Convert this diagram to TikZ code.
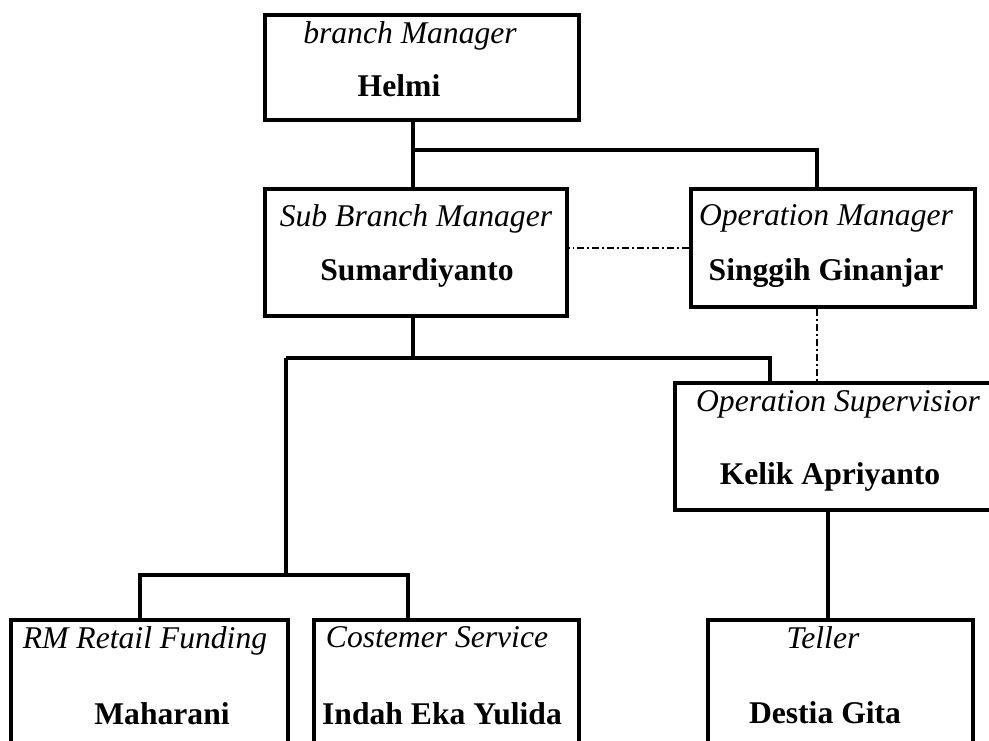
\documentclass[tikz,border=0pt]{standalone}
\usepackage{fontspec}
\setmainfont{Liberation Serif}
\usetikzlibrary{positioning}

\begin{document}
\begin{tikzpicture}[x=0.02cm,y=-0.02cm,
    kotak/.style={draw,line width=2.3pt,rectangle,anchor=north west,inner sep=0pt},
    jabatan/.style={anchor=base,inner sep=0pt,font=\fontsize{18}{22}\selectfont\itshape},
    nama/.style={anchor=base,inner sep=0pt,font=\fontsize{18}{22}\selectfont\bfseries},
    garis/.style={line width=2.3pt},
    koord/.style={line width=0.85pt,dash pattern=on 4pt off 1.7pt on 1.1pt off 1.7pt}]
  \useasboundingbox (0,0) rectangle (989,740);
  \clip (0,0) rectangle (989,740);
  % kotak-kotak
  \node[kotak,minimum width=6.28cm,minimum height=2.1cm] (bm) at (263,13) {};
  \node[kotak,minimum width=6.04cm,minimum height=2.54cm] (sbm) at (263,187) {};
  \node[kotak,minimum width=5.68cm,minimum height=2.36cm] (om) at (689,187) {};
  \node[kotak,minimum width=6.54cm,minimum height=2.54cm] (spv) at (673,381) {};
  \node[kotak,minimum width=5.54cm,minimum height=2.84cm] (rm) at (9,618) {};
  \node[kotak,minimum width=5.3cm,minimum height=2.84cm] (cs) at (312,618) {};
  \node[kotak,minimum width=5.3cm,minimum height=2.84cm] (tl) at (706,618) {};
  % teks
  \node[jabatan] (bm-jab) at (410,44) {branch Manager};
  \node[nama] (bm-nama) at (399,96) {Helmi};
  \node[jabatan] (sbm-jab) at (416,226) {Sub Branch Manager};
  \node[nama] (sbm-nama) at (417,280) {Sumardiyanto};
  \node[jabatan] (om-jab) at (826,225) {Operation Manager};
  \node[nama] (om-nama) at (826,280) {Singgih Ginanjar};
  \node[jabatan] (spv-jab) at (838,411) {Operation Supervisior};
  \node[nama] (spv-nama) at (830,484) {Kelik Apriyanto};
  \node[jabatan] (rm-jab) at (145,648) {RM Retail Funding};
  \node[nama] (rm-nama) at (162,724) {Maharani};
  \node[jabatan] (cs-jab) at (437,647) {Costemer Service};
  \node[nama] (cs-nama) at (442,724) {Indah Eka Yulida};
  \node[jabatan] (tl-jab) at (823,648) {Teller};
  \node[nama] (tl-nama) at (825,723) {Destia Gita};
  % garis komando
  \coordinate (atas) at (413,150);
  \coordinate (simpul) at (413,358);
  \coordinate (belah) at (286,575);
  \draw[garis] (atas |- bm.south) -- (atas |- sbm.north);
  \draw[garis] (atas) -| ([xshift=2.56cm]om.north west);
  \draw[garis] (simpul |- sbm.south) -- (simpul);
  \draw[garis] (belah |- simpul) -| ([xshift=1.94cm]spv.north west);
  \draw[garis] (belah |- simpul) -- (belah);
  \draw[garis] ([xshift=2.62cm]rm.north west) |- ([xshift=1.92cm]cs.north west |- belah)
    -- ([xshift=1.92cm]cs.north west);
  \draw[garis] ([xshift=2.44cm]tl.north west |- spv.south) -- ([xshift=2.44cm]tl.north west);
  % garis koordinasi
  \draw[koord] (om.west) -- (om.west -| sbm.east);
  \draw[koord] ([xshift=2.56cm]om.south west) -- ([xshift=2.56cm]om.south west |- spv.north);
\end{tikzpicture}
\end{document}
